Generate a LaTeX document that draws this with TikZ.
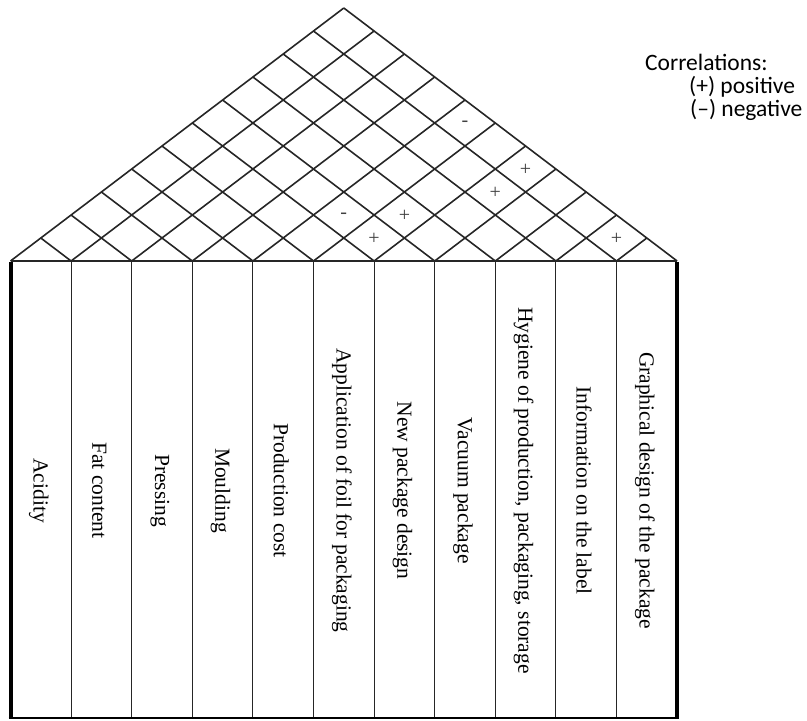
\documentclass[tikz,border=0pt]{standalone}
\usepackage{fontspec}
\setmainfont{Liberation Serif}
\newfontfamily\legendfont{Carlito}
\usepackage{tikz}
\tikzset{
  roofline/.style={line width=1.6pt, draw=black!85},
  colline/.style={line width=1.1pt, draw=black!85},
  wall/.style={line width=4pt, draw=black},
  baseline/.style={line width=2.2pt, draw=black!85},
  collabel/.style={rotate=-90, anchor=center, inner sep=0pt, font=\fontsize{21.5}{24}\selectfont},
  corrmark/.style={inner sep=0pt, text=black!75, font=\fontsize{20}{20}\selectfont},
  legend/.style={anchor=base west, inner sep=0pt, font=\legendfont\fontsize{23.5}{26}\selectfont},
}

\begin{document}
\begin{tikzpicture}[x=1pt, y=-1pt]
\useasboundingbox (0,0) rectangle (807,721);
% roof
\foreach \i in {0,...,11}{
  \draw[roofline] ({10.5+60.6*\i},261) -- ++({(11-\i)*30.3},{-(11-\i)*23});
  \draw[roofline] ({10.5+60.6*\i},261) -- ++({-\i*30.3},{-\i*23});
}
\draw[baseline] (10.5,261) -- (677.1,261);
% columns
\foreach \i in {1,...,10}{
  \draw[colline] ({10.5+60.6*\i},261) -- ({10.5+60.6*\i},718);
}
\draw[wall] (10.5,262) -- (10.5,719);
\draw[wall] (677.1,262) -- (677.1,719);
\draw[line width=2.2pt] (8.5,718) -- (679.1,718);
\foreach \t [count=\k] in {Acidity, Fat content, Pressing, Moulding, Production cost,
    Application of foil for packaging, New package design, Vacuum package,
    {Hygiene of production, packaging, storage}, Information on the label,
    Graphical design of the package}{
  \node[collabel] (lab\k) at ({10.5+60.6*(\k-0.5)-2},490.5) {\t};
}
% correlations
\foreach \a/\b/\s in {6/7/+, 5/7/-, 6/8/+, 7/10/+, 7/11/+, 10/11/+, 5/11/-}{
  \node[corrmark] (m\a\b) at ({10.5+(\a+\b-1)*30.3},{261-(\b-\a)*23+1}) {\s};
}
% legend
\node[legend] (corrtitle) at (645,70.7) {Correlations:};
\node[legend] (pos) at (689,93.3) {(+) positive};
\node[legend] (neg) at (690,116) {(–) negative};
\end{tikzpicture}
\end{document}
